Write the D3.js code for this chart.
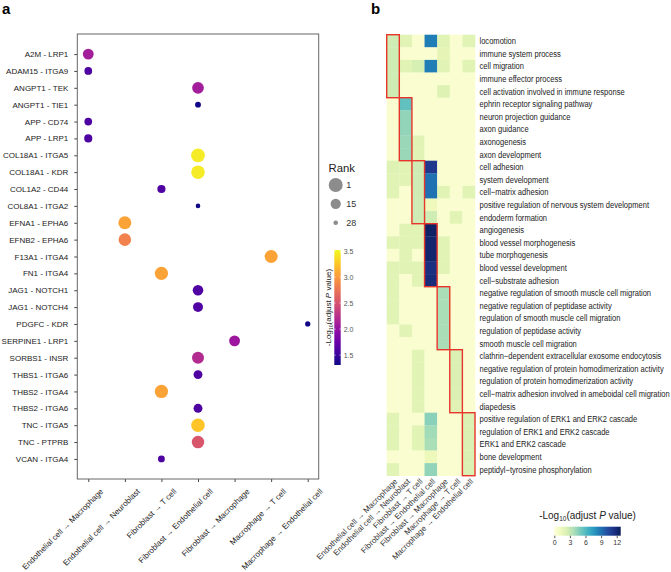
<!DOCTYPE html>
<html>
<head>
<meta charset="utf-8">
<script src="https://d3js.org/d3.v7.min.js"></script>
<style>
body { margin: 0; background: #fff; }
svg { display: block; font-family: "Liberation Sans", Arial, sans-serif; }
</style>
</head>
<body>
<svg id="chart" width="671" height="572"></svg>
<script>

// ligand - receptor pairs (panel a rows)
var lrPairs = [
    'A2M - LRP1', 'ADAM15 - ITGA9', 'ANGPT1 - TEK', 'ANGPT1 - TIE1', 'APP - CD74',
    'APP - LRP1', 'COL18A1 - ITGA5', 'COL18A1 - KDR', 'COL1A2 - CD44', 'COL8A1 - ITGA2',
    'EFNA1 - EPHA6', 'EFNB2 - EPHA6', 'F13A1 - ITGA4', 'FN1 - ITGA4', 'JAG1 - NOTCH1',
    'JAG1 - NOTCH4', 'PDGFC - KDR', 'SERPINE1 - LRP1', 'SORBS1 - INSR', 'THBS1 - ITGA6',
    'THBS2 - ITGA4', 'THBS2 - ITGA6', 'TNC - ITGA5', 'TNC - PTPRB', 'VCAN - ITGA4'
];

var cellPairs = [
    'Endothelial cell \u2192 Macrophage',
    'Endothelial cell \u2192 Neuroblast',
    'Fibroblast \u2192 T cell',
    'Fibroblast \u2192 Endothelial cell',
    'Fibroblast \u2192 Macrophage',
    'Macrophage \u2192 T cell',
    'Macrophage \u2192 Endothelial cell'
];

// index into cellPairs for each lr pair
var lrCellPair = [0, 0, 3, 3, 0, 0, 3, 3, 2, 3, 1, 1, 5, 2, 3, 3, 6, 4, 3, 3, 2, 3, 3, 3, 2];
var lrRank     = [13, 22, 10, 26, 22, 21, 2, 3, 21, 28, 5, 7, 5, 4, 14, 16, 27, 13, 9, 19, 4, 19, 3, 7, 24];
var lrLogP     = [2.1, 1.6, 2.1, 1.32, 1.6, 1.6, 3.45, 3.45, 1.6, 1.32, 3.06, 2.84, 3.06, 3.06, 1.62,
                  1.62, 1.32, 2.05, 2.2, 1.6, 3.06, 1.6, 3.25, 2.53, 1.6];

var rankTicks = [1, 15, 28];
var pTicks = [1.5, 2.0, 2.5, 3.0, 3.5];

// GO terms (panel b rows)
var goTerms = [
    'locomotion', 'immune system process', 'cell migration', 'immune effector process',
    'cell activation involved in immune response',
    'ephrin receptor signaling pathway', 'neuron projection guidance', 'axon guidance',
    'axonogenesis', 'axon development',
    'cell adhesion', 'system development', 'cell\u2212matrix adhesion',
    'positive regulation of nervous system development', 'endoderm formation',
    'angiogenesis', 'blood vessel morphogenesis', 'tube morphogenesis',
    'blood vessel development', 'cell\u2212substrate adhesion',
    'negative regulation of smooth muscle cell migration', 'negative regulation of peptidase activity',
    'regulation of smooth muscle cell migration', 'regulation of peptidase activity',
    'smooth muscle cell migration',
    'clathrin\u2212dependent extracellular exosome endocytosis',
    'negative regulation of protein homodimerization activity',
    'regulation of protein homodimerization activity',
    'cell\u2212matrix adhesion involved in ameboidal cell migration', 'diapedesis',
    'positive regulation of ERK1 and ERK2 cascade', 'regulation of ERK1 and ERK2 cascade',
    'ERK1 and ERK2 cascade', 'bone development', 'peptidyl\u2212tyrosine phosphorylation'
];

// -log10 adjusted p, one row per GO term, one column per cell pair
var goValues = [
    [2.8, 2.0, 0.4, 8.6, 2.0, 0.4, 2.0],
    [2.8, 0.4, 0.4, 0.4, 1.8, 0.4, 0.4],
    [2.8, 2.0, 2.5, 8.6, 2.0, 0.4, 2.0],
    [2.8, 0.4, 0.4, 0.4, 0.4, 0.4, 0.4],
    [2.8, 0.4, 0.4, 0.4, 2.2, 0.4, 0.4],
    [0.4, 5.6, 0.4, 0.4, 0.4, 0.4, 0.4],
    [0.4, 4.4, 0.4, 0.4, 0.4, 0.4, 0.4],
    [0.4, 4.4, 0.4, 0.4, 0.4, 0.4, 0.4],
    [0.4, 4.2, 2.0, 0.4, 0.4, 0.4, 0.4],
    [0.4, 4.2, 2.0, 0.4, 0.4, 0.4, 0.4],
    [2.2, 2.0, 2.8, 11.2, 0.4, 0.4, 0.4],
    [2.0, 2.0, 2.8, 9.0, 0.4, 0.4, 0.4],
    [2.0, 0.4, 2.8, 9.0, 2.0, 0.4, 2.0],
    [0.4, 0.4, 2.8, 1.3, 0.4, 0.4, 0.4],
    [0.4, 0.4, 2.8, 2.8, 0.4, 2.0, 0.4],
    [0.4, 2.0, 2.0, 12.4, 0.4, 0.4, 0.4],
    [2.0, 2.0, 2.0, 12.2, 2.0, 0.4, 0.4],
    [0.4, 2.0, 0.4, 12.2, 2.0, 0.4, 0.4],
    [2.0, 2.0, 2.0, 11.6, 2.0, 0.4, 0.4],
    [2.0, 0.4, 2.0, 11.8, 0.4, 0.4, 0.4],
    [2.0, 0.4, 0.4, 0.4, 3.8, 0.4, 0.4],
    [2.0, 0.4, 0.4, 0.4, 3.8, 0.4, 0.4],
    [2.0, 0.4, 0.4, 0.4, 3.8, 0.4, 0.4],
    [0.4, 2.0, 0.4, 0.4, 3.8, 0.4, 0.4],
    [0.4, 0.4, 0.4, 0.4, 3.8, 0.4, 0.4],
    [0.4, 0.4, 2.0, 0.4, 0.4, 2.3, 0.4],
    [0.4, 0.4, 2.0, 0.4, 0.4, 2.3, 0.4],
    [0.4, 0.4, 2.0, 0.4, 0.4, 2.3, 0.4],
    [0.4, 0.4, 2.0, 0.4, 0.4, 2.3, 0.4],
    [0.4, 0.4, 2.0, 0.4, 0.4, 2.1, 0.4],
    [2.0, 0.4, 0.4, 4.6, 0.4, 0.4, 2.3],
    [2.0, 0.4, 2.0, 4.0, 0.4, 0.4, 2.3],
    [2.0, 0.4, 2.0, 3.8, 0.4, 0.4, 2.3],
    [0.4, 0.4, 0.4, 1.4, 0.4, 0.4, 2.3],
    [2.0, 0.4, 0.4, 4.4, 0.4, 0.4, 2.3]
];

// number of GO terms highlighted for each cell pair (red boxes)
var goGroups = [5, 5, 5, 5, 5, 5, 5];
var heatTicks = [0, 3, 6, 9, 12];

var svg = d3.select('#chart');
var defs = svg.append('defs');

svg.append('text').attr('x', 2).attr('y', 14)
    .attr('font-size', 15).attr('font-weight', 'bold').text('a');
svg.append('text').attr('x', 371).attr('y', 14)
    .attr('font-size', 15).attr('font-weight', 'bold').text('b');

/* ---------------- panel a : dot plot ---------------- */

var frame = { left: 77.3, right: 318.7, top: 34, bottom: 479 };

var x = d3.scalePoint().domain(cellPairs).range([frame.left, frame.right]).padding(0.3);
var y = d3.scalePoint().domain(lrPairs).range([frame.top, frame.bottom]).padding(1.19);
var size = d3.scaleRadial().domain([1, 28]).range([7, 2.3]);
var color = d3.scaleSequential(d3.interpolatePlasma).domain([1.31, 3.52]);

var xAxis = svg.append('g')
    .attr('transform', 'translate(0,' + frame.bottom + ')')
    .call(d3.axisBottom(x).tickSize(3));
xAxis.select('.domain').remove();
xAxis.selectAll('text')
    .attr('y', 0).attr('dy', null)
    .attr('transform', 'translate(15,13) rotate(-45)')
    .style('text-anchor', 'end');

var yAxis = svg.append('g')
    .attr('transform', 'translate(' + frame.left + ',0)')
    .call(d3.axisLeft(y).tickSize(3).tickPadding(6));
yAxis.select('.domain').remove();

[xAxis, yAxis].forEach(function (g) {
    g.attr('font-size', 8).attr('font-family', null).attr('color', '#444');
    g.selectAll('text').attr('fill', '#222');
});

svg.append('rect')
    .attr('x', frame.left).attr('y', frame.top)
    .attr('width', frame.right - frame.left)
    .attr('height', frame.bottom - frame.top)
    .attr('fill', 'none').attr('stroke', '#666').attr('stroke-width', 1);

svg.append('g').selectAll('circle')
    .data(lrPairs)
    .enter().append('circle')
    .attr('cx', function (d, i) { return x(cellPairs[lrCellPair[i]]); })
    .attr('cy', function (d) { return y(d); })
    .attr('r', function (d, i) { return size(lrRank[i]); })
    .attr('fill', function (d, i) { return color(lrLogP[i]); });

// rank legend
svg.append('text').attr('x', 328.5).attr('y', 171.5)
    .attr('font-size', 11.3).attr('fill', '#222').text('Rank');

var rankY = d3.scalePoint().domain(rankTicks).range([185, 222.7]);
var rankG = svg.append('g').selectAll('g')
    .data(rankTicks).enter().append('g')
    .attr('transform', function (d) { return 'translate(335.7,' + rankY(d) + ')'; });
rankG.append('circle').attr('r', function (d) { return size(d); }).attr('fill', '#8c8c8c');
rankG.append('text').attr('x', 10.5).attr('dy', '0.35em')
    .attr('font-size', 9).attr('fill', '#333').text(function (d) { return d; });

// colour bar
var pGrad = defs.append('linearGradient').attr('id', 'plasmaGrad')
    .attr('x1', 0).attr('y1', 1).attr('x2', 0).attr('y2', 0);
d3.range(0, 1.0001, 0.1).forEach(function (t) {
    pGrad.append('stop').attr('offset', t).attr('stop-color', d3.interpolatePlasma(t));
});

var pScale = d3.scaleLinear().domain([1.31, 3.52]).range([365, 250]);
svg.append('rect').attr('x', 334.3).attr('y', 250).attr('width', 6.4).attr('height', 115)
    .attr('fill', 'url(#plasmaGrad)');

svg.append('g').selectAll('line')
    .data(pTicks).enter().append('line')
    .attr('x1', 334.3).attr('x2', 340.7)
    .attr('y1', function (d) { return pScale(d); })
    .attr('y2', function (d) { return pScale(d); })
    .attr('stroke', '#fff').attr('stroke-width', 0.6)
    .attr('stroke-dasharray', '1.4,3.6,1.4');

var pAxis = svg.append('g')
    .attr('transform', 'translate(340.7,0)')
    .call(d3.axisRight(pScale).tickValues(pTicks).tickSize(0).tickPadding(3).tickFormat(d3.format('.1f')));
pAxis.select('.domain').remove();
pAxis.attr('font-size', 7).attr('font-family', null);
pAxis.selectAll('text').attr('fill', '#555');

function logTitle ( sel, fs ) {
    sel.append('tspan').text('-Log');
    sel.append('tspan').attr('font-size', fs * 0.65).attr('dy', fs * 0.25).text('10');
    sel.append('tspan').attr('dy', -fs * 0.25).text('(adjust ');
    sel.append('tspan').attr('font-style', 'italic').text('P');
    sel.append('tspan').text(' value)');
}

svg.append('text')
    .attr('transform', 'translate(331,307.5) rotate(-90)')
    .attr('text-anchor', 'middle').attr('font-size', 8).attr('fill', '#222')
    .call(logTitle, 8);

/* ---------------- panel b : heatmap ---------------- */

var hx = d3.scaleBand().domain(cellPairs).range([386.7, 475]);
var hy = d3.scaleBand().domain(goTerms).range([34.7, 475.7]);
var heatMax = 12.77;
var heatColor = d3.scaleSequential(d3.interpolateYlGnBu).domain([0, heatMax]);

var cells = [];
goTerms.forEach(function (t, i) {
    cellPairs.forEach(function (c, j) {
        cells.push({ term: t, pair: c, value: goValues[i][j] });
    });
});

svg.append('g').selectAll('rect')
    .data(cells).enter().append('rect')
    .attr('x', function (d) { return hx(d.pair); })
    .attr('y', function (d) { return hy(d.term); })
    .attr('width', hx.bandwidth() + 0.3)
    .attr('height', hy.bandwidth() + 0.3)
    .attr('fill', function (d) { return heatColor(d.value); });

var start = 0;
var boxes = goGroups.map(function (n, j) {
    var b = { pair: cellPairs[j], first: goTerms[start], n: n };
    start += n;
    return b;
});

svg.append('g').selectAll('rect')
    .data(boxes).enter().append('rect')
    .attr('x', function (d) { return hx(d.pair); })
    .attr('y', function (d) { return hy(d.first); })
    .attr('width', hx.bandwidth())
    .attr('height', function (d) { return d.n * hy.bandwidth(); })
    .attr('fill', 'none').attr('stroke', '#e8352b').attr('stroke-width', 1.4);

svg.append('g').selectAll('text')
    .data(goTerms).enter().append('text')
    .attr('transform', function (d) {
        return 'translate(479.5,' + (hy(d) + hy.bandwidth() / 2) + ') scale(0.84,1)';
    })
    .attr('dy', '0.35em').attr('font-size', 9).attr('fill', '#222')
    .text(function (d) { return d; });

svg.append('g').selectAll('text')
    .data(cellPairs).enter().append('text')
    .attr('transform', function (d) {
        return 'translate(' + (hx(d) + hx.bandwidth() / 2 + 5) + ',482) rotate(-45)';
    })
    .attr('text-anchor', 'end').attr('font-size', 8).attr('fill', '#333')
    .text(function (d) { return d; });

// heatmap legend
svg.append('text')
    .attr('x', 587.5).attr('y', 518.5)
    .attr('text-anchor', 'middle').attr('font-size', 10).attr('fill', '#222')
    .call(logTitle, 10);

var hGrad = defs.append('linearGradient').attr('id', 'ylgnbuGrad');
d3.range(0, 1.0001, 0.1).forEach(function (t) {
    hGrad.append('stop').attr('offset', t).attr('stop-color', d3.interpolateYlGnBu(t));
});

var hScale = d3.scaleLinear().domain([0, heatMax]).range([554.3, 620.7]);
svg.append('rect').attr('x', 554.3).attr('y', 526.7).attr('width', 66.4).attr('height', 9)
    .attr('fill', 'url(#ylgnbuGrad)');

var hAxis = svg.append('g')
    .attr('transform', 'translate(0,535.7)')
    .call(d3.axisBottom(hScale).tickValues(heatTicks).tickSize(2.5).tickPadding(1.5));
hAxis.select('.domain').remove();
hAxis.attr('font-size', 7).attr('font-family', null).attr('color', '#555');
hAxis.selectAll('text').attr('fill', '#333');

</script>
</body>
</html>
